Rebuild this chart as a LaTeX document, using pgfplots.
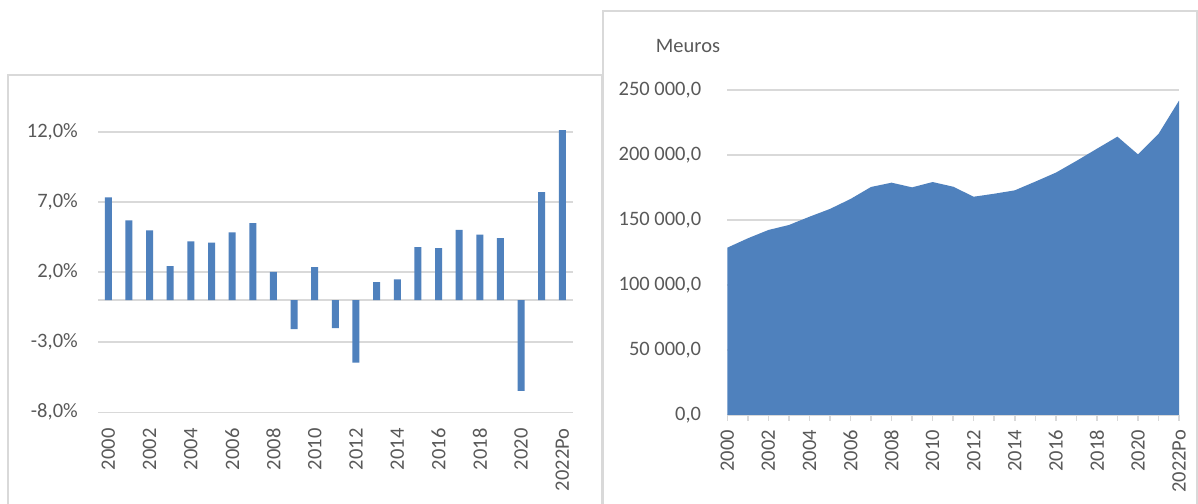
\documentclass[border=0pt]{standalone}
\usepackage{pgfplots}
\pgfplotsset{compat=1.18}
\usepackage{fontspec}
\setmainfont{Carlito}
\definecolor{barblue}{HTML}{4F81BD}
\definecolor{gridgray}{HTML}{D9D9D9}
\definecolor{txtgray}{HTML}{595959}
\begin{document}
\begin{tikzpicture}[x=1bp,y=1bp]
\useasboundingbox (0,0) rectangle (1198,504);
\clip (0,0) rectangle (1198,504);
\fill[white] (0,0) rectangle (1198,504);
\draw[gridgray, line width=2bp] (8,-10) -- (8,429.3) -- (601.7,429.3) -- (601.7,-10);
\draw[gridgray, line width=2bp] (603.3,-10) -- (603.3,493.3) -- (1197,493.3) -- (1197,-10);
\begin{axis}[
  at={(98bp,91.7bp)}, anchor=south west,
  scale only axis, width=474.7bp, height=280.3bp,
  xmin=-0.5, xmax=22.5, ymin=-8, ymax=12,
  clip=false,
  axis line style={draw=none},
  major tick length=0pt,
  ytick={-8,-3,2,7,12},
  yticklabels={{-8,0\%},{-3,0\%},{2,0\%},{7,0\%},{12,0\%}},
  extra y ticks={0}, extra y tick labels={},
  extra y tick style={grid=major},
  xtick={0,2,...,22},
  xticklabels={2000,2002,2004,2006,2008,2010,2012,2014,2016,2018,2020,2022Po},
  ymajorgrids,
  grid style={gridgray, line width=1.5bp},
  tick label style={font=\fontsize{20.5bp}{24bp}\selectfont, text=txtgray, inner sep=0pt},
  xticklabel style={rotate=90, anchor=east},
  yticklabel style={anchor=east},
  xticklabel shift=16bp,
  yticklabel shift=20bp,
]
\addplot[ybar, bar width=7bp, fill=barblue, draw=none] coordinates {
(0,7.33) (1,5.69) (2,4.98) (3,2.43) (4,4.19) (5,4.10) (6,4.83) (7,5.50)
(8,2.02) (9,-2.07) (10,2.36) (11,-2.00) (12,-4.45) (13,1.29) (14,1.48)
(15,3.79) (16,3.71) (17,5.02) (18,4.67) (19,4.43) (20,-6.48) (21,7.71) (22,12.14)
};
\end{axis}
\node[font=\fontsize{20.5bp}{24bp}\selectfont, text=txtgray] at (688,458) {Meuros};
\begin{axis}[
  at={(727.3bp,89bp)}, anchor=south west,
  scale only axis, width=451.7bp, height=325bp,
  xmin=0, xmax=22, ymin=0, ymax=250000,
  scaled y ticks=false,
  axis x line*=bottom, axis y line*=left,
  x axis line style={gridgray, line width=1.5bp, -},
  y axis line style={draw=none},
  ytick={0,50000,100000,150000,200000,250000},
  yticklabels={{0,0},{50 000,0},{100 000,0},{150 000,0},{200 000,0},{250 000,0}},
  xtick={0,...,22},
  xticklabels={2000,,2002,,2004,,2006,,2008,,2010,,2012,,2014,,2016,,2018,,2020,,2022Po},
  xtick style={gridgray, line width=1.5bp},
  ytick style={draw=none},
  major tick length=6bp, tick align=outside,
  ymajorgrids,
  grid style={gridgray, line width=1.5bp},
  tick label style={font=\fontsize{20.5bp}{24bp}\selectfont, text=txtgray, inner sep=0pt},
  xticklabel style={rotate=90, anchor=east},
  yticklabel style={anchor=east},
  xticklabel shift=9bp,
  yticklabel shift=20bp,
]
\addplot[fill=barblue, draw=none] coordinates {
(0,128700) (1,135900) (2,142300) (3,146150) (4,152500) (5,158500) (6,166150)
(7,175400) (8,178700) (9,175100) (10,179200) (11,175600) (12,167900) (13,170200)
(14,172800) (15,179500) (16,186400) (17,195400) (18,204800) (19,214100)
(20,200500) (21,216200) (22,241800)
} \closedcycle;
\end{axis}
\end{tikzpicture}
\end{document}
